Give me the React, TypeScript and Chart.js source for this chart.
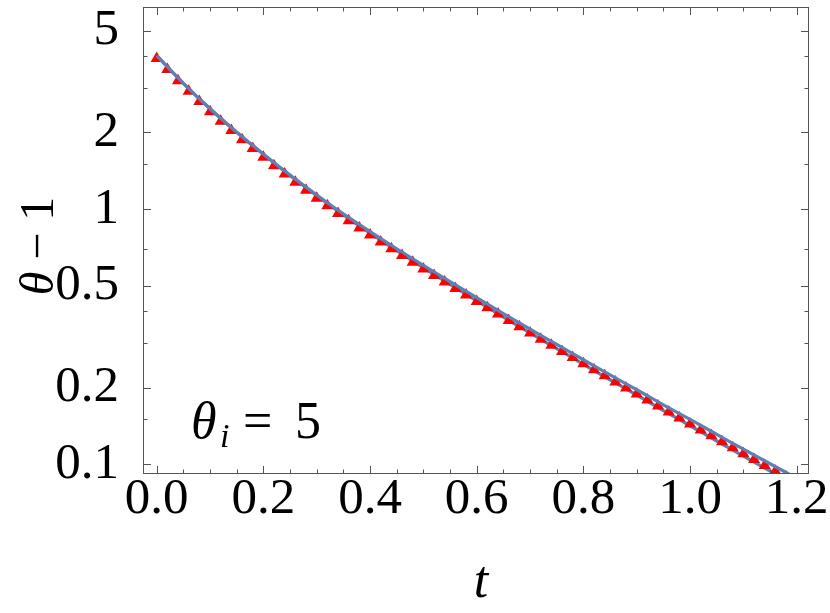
import React, { useEffect, useRef } from "react";
import { Chart, registerables } from "chart.js";
Chart.register(...registerables);

// theory curves sampled every 0.05 in t
const tCurve = [0, 0.05, 0.1, 0.15, 0.2, 0.25, 0.3, 0.35, 0.4, 0.45, 0.5, 0.55, 0.6, 0.65, 0.7, 0.75, 0.8, 0.85, 0.9, 0.95, 1.0, 1.05, 1.1, 1.15, 1.2];
const upperCurve = [4.0, 3.119, 2.477, 2.004, 1.644, 1.361, 1.138, 0.959, 0.817, 0.7, 0.603, 0.52, 0.45, 0.39, 0.339, 0.295, 0.257, 0.224, 0.196, 0.171, 0.15, 0.131, 0.1146, 0.1005, 0.0881];
const lowerCurve = [4.0, 3.119, 2.477, 2.004, 1.644, 1.357, 1.13, 0.9495, 0.8054, 0.6879, 0.5902, 0.5076, 0.4375, 0.378, 0.3273, 0.2841, 0.2466, 0.2145, 0.1866, 0.1623, 0.1416, 0.1234, 0.1076, 0.0941, 0.0822];

// simulation points (red triangles)
const tSim = [0, 0.02, 0.04, 0.06, 0.08, 0.1, 0.12, 0.14, 0.16, 0.18, 0.2, 0.22, 0.24, 0.26, 0.28, 0.3, 0.32, 0.34, 0.36, 0.38, 0.4, 0.42, 0.44, 0.46, 0.48, 0.5, 0.52, 0.54, 0.56, 0.58, 0.6, 0.62, 0.64, 0.66, 0.68, 0.7, 0.72, 0.74, 0.76, 0.78, 0.8, 0.82, 0.84, 0.86, 0.88, 0.9, 0.92, 0.94, 0.96, 0.98, 1.0, 1.02, 1.04, 1.06, 1.08, 1.1, 1.12, 1.14, 1.16, 1.18, 1.2];
const simValues = [3.9, 3.53, 3.194, 2.902, 2.646, 2.413, 2.216, 2.035, 1.875, 1.731, 1.599, 1.482, 1.374, 1.276, 1.187, 1.105, 1.032, 0.9634, 0.9013, 0.8451, 0.7918, 0.7444, 0.6997, 0.658, 0.6197, 0.5834, 0.55, 0.5185, 0.4889, 0.4611, 0.4349, 0.4107, 0.388, 0.3664, 0.3463, 0.3272, 0.3095, 0.2928, 0.277, 0.2621, 0.248, 0.2347, 0.2223, 0.2104, 0.1993, 0.1887, 0.1787, 0.1692, 0.1602, 0.1518, 0.1439, 0.1364, 0.1293, 0.1225, 0.1161, 0.11, 0.1044, 0.099, 0.0939, 0.0891, 0.0845];

const xTickLabels = [0, 0.2, 0.4, 0.6, 0.8, 1.0, 1.2];
const xMinorTicks = [0.05, 0.1, 0.15, 0.25, 0.3, 0.35, 0.45, 0.5, 0.55, 0.65, 0.7, 0.75, 0.85, 0.9, 0.95, 1.05, 1.1, 1.15];
const yTickLabels = [0.1, 0.2, 0.5, 1, 2, 5];
const yMinorTicks = [0.15, 0.3, 0.4, 0.7, 1.5, 3, 4];

const FONT = "'Liberation Serif', 'DejaVu Serif', serif";
const FRAME = "#555555";

const framePlugin = {
  id: "frameTicks",
  afterDraw(chart: any) {
    const { ctx, chartArea: a, scales } = chart;
    const xs = scales.x;
    const ys = scales.y;
    ctx.save();
    ctx.strokeStyle = FRAME;
    ctx.lineWidth = 1;
    ctx.strokeRect(a.left + 0.5, a.top + 0.5, a.right - a.left - 1, a.bottom - a.top - 1);
    const tick = (x1: number, y1: number, x2: number, y2: number) => {
      ctx.beginPath();
      ctx.moveTo(x1, y1);
      ctx.lineTo(x2, y2);
      ctx.stroke();
    };
    const maj = 8;
    const min = 4.5;
    xTickLabels.forEach((v) => {
      const x = Math.round(xs.getPixelForValue(v)) + 0.5;
      tick(x, a.bottom, x, a.bottom - maj);
      tick(x, a.top, x, a.top + maj);
    });
    xMinorTicks.forEach((v) => {
      const x = Math.round(xs.getPixelForValue(v)) + 0.5;
      tick(x, a.bottom, x, a.bottom - min);
      tick(x, a.top, x, a.top + min);
    });
    yTickLabels.forEach((v) => {
      const y = Math.round(ys.getPixelForValue(v)) + 0.5;
      tick(a.left, y, a.left + maj, y);
      tick(a.right, y, a.right - maj, y);
    });
    yMinorTicks.forEach((v) => {
      const y = Math.round(ys.getPixelForValue(v)) + 0.5;
      tick(a.left, y, a.left + min, y);
      tick(a.right, y, a.right - min, y);
    });

    // axis labels and annotation
    ctx.fillStyle = "#000";
    ctx.textBaseline = "alphabetic";
    ctx.font = `italic 52px ${FONT}`;
    ctx.textAlign = "center";
    ctx.fillText("t", 481, 597);
    // y label rotated
    ctx.save();
    ctx.translate(53, 246);
    ctx.rotate(-Math.PI / 2);
    ctx.textAlign = "left";
    const th = "θ";
    const rest = " − 1";
    ctx.font = `48px ${FONT}`;
    const restW = ctx.measureText(rest).width;
    ctx.font = `italic 48px ${FONT}`;
    const thW = ctx.measureText(th).width;
    const total = thW + restW;
    ctx.fillText(th, -total / 2, 0);
    ctx.font = `48px ${FONT}`;
    ctx.fillText(rest, -total / 2 + thW, 0);
    ctx.restore();
    // annotation θ_i = 5
    ctx.textAlign = "left";
    ctx.font = `italic 52px ${FONT}`;
    ctx.fillText("θ", 191, 438);
    ctx.font = `italic 34px ${FONT}`;
    ctx.fillText("i", 220, 447);
    ctx.font = `52px ${FONT}`;
    ctx.fillText("=", 243, 438);
    ctx.fillText("5", 295, 438);
    ctx.restore();
  },
};

export default function App() {
  const ref = useRef<HTMLCanvasElement>(null);
  useEffect(() => {
    if (!ref.current) return;
    const chart = new Chart(ref.current, {
      type: "scatter",
      data: {
        datasets: [
          {
            label: "upper",
            data: tCurve.map((t, i) => ({ x: t, y: upperCurve[i] })),
            showLine: true,
            borderColor: "#5E81B5",
            borderWidth: 3.2,
            pointRadius: 0,
            tension: 0.4,
            order: 1,
            clip: 0,
          },
          {
            label: "sim",
            data: tSim.map((t, i) => ({ x: t, y: simValues[i] })),
            showLine: false,
            pointStyle: "triangle",
            pointRadius: 7,
            backgroundColor: "#FF0000",
            borderColor: "#FF0000",
            borderWidth: 0,
            order: 2,
            clip: 0,
          },
          {
            label: "lower",
            data: tCurve.map((t, i) => ({ x: t, y: lowerCurve[i] })),
            showLine: true,
            borderColor: "#5E81B5",
            borderWidth: 3.2,
            pointRadius: 0,
            tension: 0.4,
            order: 3,
            clip: 0,
          },
        ],
      },
      options: {
        responsive: false,
        animation: false,
        layout: { padding: { top: 7, right: 21, left: 0, bottom: 0 } },
        plugins: { legend: { display: false }, tooltip: { enabled: false } },
        scales: {
          x: {
            type: "linear",
            min: -0.0257,
            max: 1.223,
            grid: { display: false },
            border: { display: false },
            afterBuildTicks: (s: any) => {
              s.ticks = xTickLabels.map((v) => ({ value: v }));
            },
            afterFit: (s: any) => {
              s.height = 139;
              s.paddingLeft = 0;
              s.paddingRight = 0;
              s.paddingTop = 0;
              s.paddingBottom = 0;
            },
            ticks: {
              autoSkip: false,
              maxRotation: 0,
              padding: -13,
              color: "#000",
              font: { family: FONT, size: 51 },
              callback: (v: any) => Number(v).toFixed(1),
            },
          },
          y: {
            type: "logarithmic",
            min: 0.0916,
            max: 6.21,
            grid: { display: false },
            border: { display: false },
            afterBuildTicks: (s: any) => {
              s.ticks = yTickLabels.map((v) => ({ value: v }));
            },
            afterFit: (s: any) => {
              s.width = 143;
              s.paddingLeft = 0;
              s.paddingRight = 0;
              s.paddingTop = 0;
              s.paddingBottom = 0;
            },
            ticks: {
              autoSkip: false,
              padding: 16,
              color: "#000",
              font: { family: FONT, size: 51 },
              callback: (v: any) => String(v),
            },
          },
        },
      },
      plugins: [framePlugin],
    });
    return () => chart.destroy();
  }, []);
  return (
    <div style={{ position: "absolute", left: 0, top: 0, width: 830, height: 613, background: "#fff" }}>
      <canvas ref={ref} width={830} height={613} style={{ width: 830, height: 613, display: "block" }} />
    </div>
  );
}
